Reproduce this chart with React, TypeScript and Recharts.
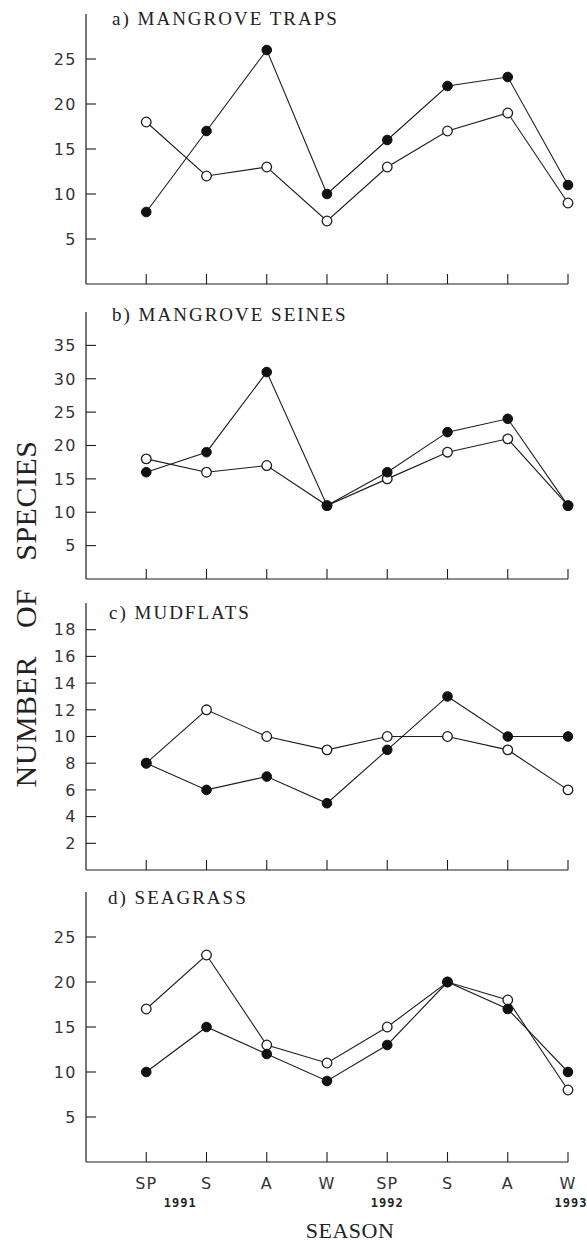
import React from 'react';
import { LineChart, Line, XAxis, YAxis } from 'recharts';

const SEASONS = ['SP', 'S', 'A', 'W', 'SP', 'S', 'A', 'W'];
const YEARS = ['1991', '', '', '', '1992', '', '', '1993'];
const INDEX = [0, 1, 2, 3, 4, 5, 6, 7];

const TRAPS_FILLED = [8, 17, 26, 10, 16, 22, 23, 11];
const TRAPS_OPEN = [18, 12, 13, 7, 13, 17, 19, 9];
const SEINES_FILLED = [16, 19, 31, 11, 16, 22, 24, 11];
const SEINES_OPEN = [18, 16, 17, 11, 15, 19, 21, 11];
const MUD_FILLED = [8, 6, 7, 5, 9, 13, 10, 10];
const MUD_OPEN = [8, 12, 10, 9, 10, 10, 9, 6];
const SEA_FILLED = [10, 15, 12, 9, 13, 20, 17, 10];
const SEA_OPEN = [17, 23, 13, 11, 15, 20, 18, 8];

const TRAPS_TICKS = [5, 10, 15, 20, 25];
const SEINES_TICKS = [5, 10, 15, 20, 25, 30, 35];
const MUD_TICKS = [2, 4, 6, 8, 10, 12, 14, 16, 18];
const SEA_TICKS = [5, 10, 15, 20, 25];

const TITLES = ['a) MANGROVE TRAPS', 'b) MANGROVE SEINES', 'c) MUDFLATS', 'd) SEAGRASS'];
const Y_TITLE = 'NUMBER OF SPECIES';
const X_TITLE = 'SEASON';

const INK = '#1c1c1c';
const W = 587;
const AXIS_X = 86;
const RIGHT = 19;

const build = (filled: number[], open: number[]) =>
  INDEX.map((i) => ({ i, filled: filled[i], open: open[i] }));

const YTick = (props: any) => {
  const { x, y, payload } = props;
  return (
    <g>
      <line x1={x} x2={x + 10} y1={y} y2={y} stroke={INK} strokeWidth={1.1} />
      <text
        x={x - 9}
        y={y}
        dy="0.36em"
        textAnchor="end"
        fontFamily="DejaVu Sans, sans-serif"
        fontSize={16}
        letterSpacing={1.5}
        fill="#333"
      >
        {payload.value}
      </text>
    </g>
  );
};

const XTick = (props: any) => {
  const { x, y, payload, showLabels } = props;
  const idx = payload.value as number;
  const yearDx = idx === 0 ? 34 : idx === 7 ? 3 : 0;
  return (
    <g>
      <line x1={x} x2={x} y1={y} y2={y - 10} stroke={INK} strokeWidth={1.1} />
      {showLabels && (
        <text
          x={x}
          y={y + 27}
          textAnchor="middle"
          fontFamily="DejaVu Sans, sans-serif"
          fontSize={16}
          letterSpacing={1}
          fill="#333"
        >
          {SEASONS[idx]}
        </text>
      )}
      {showLabels && YEARS[idx] && (
        <text
          x={x + yearDx}
          y={y + 45}
          textAnchor="middle"
          fontFamily="DejaVu Sans Mono, monospace"
          fontWeight="bold"
          fontSize={12}
          letterSpacing={1}
          fill="#222"
        >
          {YEARS[idx]}
        </text>
      )}
    </g>
  );
};

type PanelProps = {
  top: number;
  height: number;
  mt: number;
  xh: number;
  filled: number[];
  open: number[];
  max: number;
  ticks: number[];
  labels?: boolean;
};

const Panel = ({ top, height, mt, xh, filled, open, max, ticks, labels }: PanelProps) => (
  <div style={{ position: 'absolute', left: 0, top, width: W, height }}>
    <LineChart
      width={W}
      height={height}
      data={build(filled, open)}
      margin={{ top: mt, right: RIGHT, bottom: 0, left: 0 }}
    >
      <XAxis
        dataKey="i"
        type="number"
        domain={[-1, 7]}
        ticks={INDEX}
        interval={0}
        height={xh}
        tickSize={0}
        tickMargin={0}
        tickLine={false}
        axisLine={{ stroke: INK, strokeWidth: 1.2 }}
        tick={(p: any) => <XTick {...p} showLabels={labels} />}
      />
      <YAxis
        type="number"
        domain={[0, max]}
        ticks={ticks}
        width={AXIS_X}
        tickSize={0}
        tickMargin={0}
        tickLine={false}
        axisLine={{ stroke: INK, strokeWidth: 1.2 }}
        tick={(p: any) => <YTick {...p} />}
      />
      <Line
        dataKey="open"
        type="linear"
        stroke={INK}
        strokeWidth={1.1}
        dot={{ r: 4.8, fill: '#fff', stroke: INK, strokeWidth: 1.3 }}
        isAnimationActive={false}
      />
      <Line
        dataKey="filled"
        type="linear"
        stroke={INK}
        strokeWidth={1.1}
        dot={{ r: 4.8, fill: '#111', stroke: '#111', strokeWidth: 1 }}
        isAnimationActive={false}
      />
    </LineChart>
  </div>
);

const TITLE_POS = [
  { x: 112, y: 25 },
  { x: 112, y: 321 },
  { x: 109, y: 619 },
  { x: 108, y: 904 },
];

export default function App() {
  return (
    <div style={{ position: 'absolute', left: 0, top: 0, width: W, height: 1242, background: '#fff' }}>
      <Panel top={0} height={294} mt={14} xh={10} filled={TRAPS_FILLED} open={TRAPS_OPEN} max={30} ticks={TRAPS_TICKS} />
      <Panel top={300} height={289} mt={12} xh={10} filled={SEINES_FILLED} open={SEINES_OPEN} max={40} ticks={SEINES_TICKS} />
      <Panel top={590} height={290} mt={13} xh={10} filled={MUD_FILLED} open={MUD_OPEN} max={20} ticks={MUD_TICKS} />
      <Panel top={880} height={342} mt={12} xh={60} filled={SEA_FILLED} open={SEA_OPEN} max={30} ticks={SEA_TICKS} labels />
      <svg
        width={W}
        height={1242}
        style={{ position: 'absolute', left: 0, top: 0, pointerEvents: 'none' }}
      >
        {TITLES.map((t, k) => (
          <text
            key={t}
            x={TITLE_POS[k].x}
            y={TITLE_POS[k].y}
            fontFamily="Liberation Serif, serif"
            fontSize={19}
            letterSpacing={2}
            fill="#222"
          >
            {t}
          </text>
        ))}
        <text
          transform="translate(36, 614) rotate(-90)"
          textAnchor="middle"
          fontFamily="Liberation Serif, serif"
          fontSize={30}
          letterSpacing={0.5}
          wordSpacing={20}
          fill="#222"
        >
          {Y_TITLE}
        </text>
        <text
          x={350}
          y={1238}
          textAnchor="middle"
          fontFamily="Liberation Serif, serif"
          fontSize={22}
          letterSpacing={0.5}
          fill="#222"
        >
          {X_TITLE}
        </text>
      </svg>
    </div>
  );
}
